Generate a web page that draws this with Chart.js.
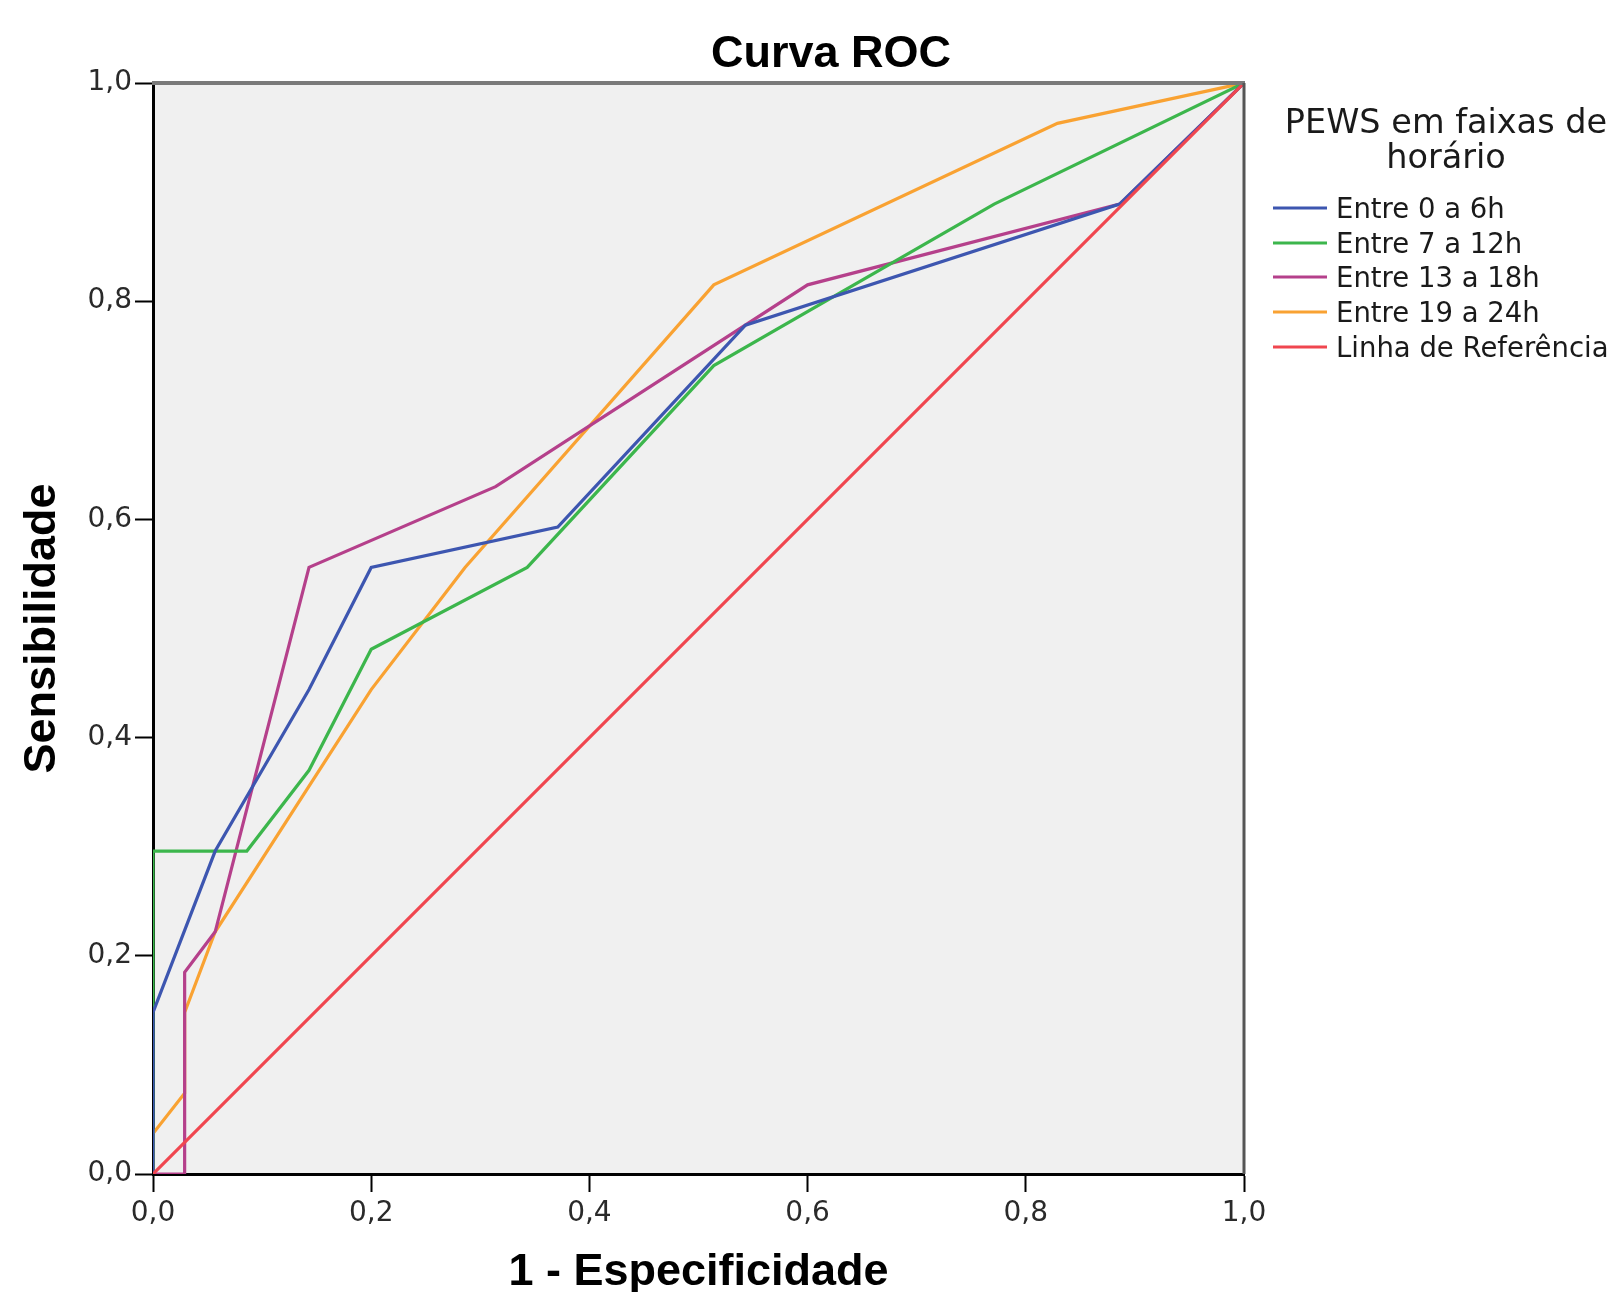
<!DOCTYPE html>
<html>
<head>
<meta charset="utf-8">
<script src="https://cdn.jsdelivr.net/npm/chart.js@4.4.1/dist/chart.umd.min.js"></script>
<style>
  html, body { margin: 0; padding: 0; background: #ffffff; }
  #wrap { width: 1623px; height: 1292px; }
</style>
</head>
<body>
<div id="wrap"><canvas id="c" width="1623" height="1292"></canvas></div>
<script>
// ---- Data ----
const chartTitle = "Curva ROC";
const xAxisTitle = "1 - Especificidade";
const yAxisTitle = "Sensibilidade";
const legendTitle = ["PEWS em faixas de", "horário"];
const seriesNames = ["Entre 0 a 6h", "Entre 7 a 12h", "Entre 13 a 18h", "Entre 19 a 24h", "Linha de Referência"];
const tickValues = [0, 0.2, 0.4, 0.6, 0.8, 1.0];

const fpr0to6   = [0, 0,     0.057, 0.143, 0.200, 0.371, 0.543, 0.886, 1];
const tpr0to6   = [0, 0.148, 0.296, 0.444, 0.556, 0.593, 0.778, 0.889, 1];

const fpr7to12  = [0, 0,     0.086, 0.143, 0.200, 0.343, 0.514, 0.771, 1];
const tpr7to12  = [0, 0.296, 0.296, 0.370, 0.481, 0.556, 0.741, 0.889, 1];

const fpr13to18 = [0, 0.029, 0.029, 0.057, 0.143, 0.314, 0.600, 0.886, 1];
const tpr13to18 = [0, 0,     0.185, 0.222, 0.556, 0.630, 0.815, 0.889, 1];

const fpr19to24 = [0, 0,     0.029, 0.029, 0.057, 0.200, 0.286, 0.514, 0.829, 1];
const tpr19to24 = [0, 0.037, 0.074, 0.148, 0.222, 0.444, 0.556, 0.815, 0.963, 1];

const fprRef = [0, 1];
const tprRef = [0, 1];

const seriesColors = ["#3d56b0", "#3cb64c", "#b5408b", "#f9a232", "#f0464f"];

// ---- Build datasets ----
function pts(xs, ys) { return xs.map((x, i) => ({ x: x, y: ys[i] })); }
const seriesData = [
  pts(fpr0to6, tpr0to6),
  pts(fpr7to12, tpr7to12),
  pts(fpr13to18, tpr13to18),
  pts(fpr19to24, tpr19to24),
  pts(fprRef, tprRef)
];
const datasets = seriesData.map((d, i) => ({
  label: seriesNames[i],
  data: d,
  showLine: true,
  borderColor: seriesColors[i],
  backgroundColor: seriesColors[i],
  borderWidth: 3.2,
  pointRadius: 0,
  pointHoverRadius: 0,
  tension: 0,
  fill: false
}));
const ordered = [datasets[4], datasets[0], datasets[1], datasets[2], datasets[3]];

const fmt = v => Number(v).toFixed(1).replace('.', ',');

const decorPlugin = {
  id: 'decor',
  beforeDraw(chart) {
    const { ctx, chartArea: a } = chart;
    ctx.save();
    ctx.fillStyle = '#ffffff';
    ctx.fillRect(0, 0, chart.width, chart.height);
    ctx.fillStyle = '#f0f0f0';
    ctx.fillRect(a.left, a.top, a.right - a.left, a.bottom - a.top);
    ctx.restore();
  },
  afterDraw(chart) {
    const { ctx, chartArea: a } = chart;
    ctx.save();
    ctx.strokeStyle = '#7a7a7a';
    ctx.lineWidth = 4;
    ctx.beginPath();
    ctx.moveTo(a.left - 1, a.top);
    ctx.lineTo(a.right + 1, a.top);
    ctx.stroke();
    ctx.strokeStyle = '#555555';
    ctx.lineWidth = 3;
    ctx.beginPath();
    ctx.moveTo(a.right, a.top);
    ctx.lineTo(a.right, a.bottom);
    ctx.stroke();

    ctx.fillStyle = '#000000';
    ctx.font = 'bold 45px "Liberation Sans", Arial, sans-serif';
    ctx.textAlign = 'center';
    ctx.textBaseline = 'alphabetic';
    ctx.fillText(chartTitle, 831, 67);

    ctx.fillStyle = '#1a1a1a';
    ctx.font = '33.5px "DejaVu Sans", sans-serif';
    ctx.fillText(legendTitle[0], 1446, 133);
    ctx.fillText(legendTitle[1], 1446, 168);

    ctx.textAlign = 'left';
    ctx.font = '27.5px "DejaVu Sans", sans-serif';
    const rowY = [208, 243, 277, 312, 347];
    seriesNames.forEach((name, i) => {
      ctx.strokeStyle = seriesColors[i];
      ctx.lineWidth = 3;
      ctx.beginPath();
      ctx.moveTo(1273, rowY[i]);
      ctx.lineTo(1327, rowY[i]);
      ctx.stroke();
      ctx.fillStyle = '#1a1a1a';
      ctx.fillText(name, 1336, rowY[i] + 10);
    });
    ctx.restore();
  }
};

const axisCommon = {
  type: 'linear',
  min: 0,
  max: 1,
  border: { display: true, color: '#000000', width: 3 },
  grid: {
    drawOnChartArea: false,
    drawTicks: true,
    tickLength: 18,
    tickColor: '#000000',
    tickWidth: 2
  },
  afterBuildTicks(scale) {
    scale.ticks = tickValues.map(v => ({ value: v }));
  }
};

new Chart(document.getElementById('c'), {
  type: 'scatter',
  data: { datasets: ordered },
  plugins: [decorPlugin],
  options: {
    responsive: false,
    animation: false,
    devicePixelRatio: 1,
    layout: { padding: { top: 83, right: 379, left: 0, bottom: 0 } },
    plugins: {
      legend: { display: false },
      title: { display: false },
      tooltip: { enabled: false }
    },
    scales: {
      x: Object.assign({}, axisCommon, {
        position: 'bottom',
        ticks: {
          color: '#2a2a2a',
          font: { family: '"DejaVu Sans", sans-serif', size: 28 },
          padding: 5,
          maxRotation: 0,
          autoSkip: false,
          callback: v => fmt(v)
        },
        title: {
          display: true,
          text: xAxisTitle,
          color: '#000000',
          font: { family: '"Liberation Sans", Arial, sans-serif', size: 45, weight: 'bold', lineHeight: 0.85 },
          padding: { top: 0, bottom: 0 }
        },
        afterFit(scale) { scale.height = 118; }
      }),
      y: Object.assign({}, axisCommon, {
        position: 'left',
        ticks: {
          color: '#2a2a2a',
          font: { family: '"DejaVu Sans", sans-serif', size: 28 },
          padding: 3,
          autoSkip: false,
          callback: v => fmt(v)
        },
        title: {
          display: true,
          text: yAxisTitle,
          color: '#000000',
          font: { family: '"Liberation Sans", Arial, sans-serif', size: 45, weight: 'bold', lineHeight: 0.85 },
          padding: { top: 23, bottom: 0 }
        },
        afterFit(scale) { scale.width = 153; }
      })
    }
  }
});
</script>
</body>
</html>
